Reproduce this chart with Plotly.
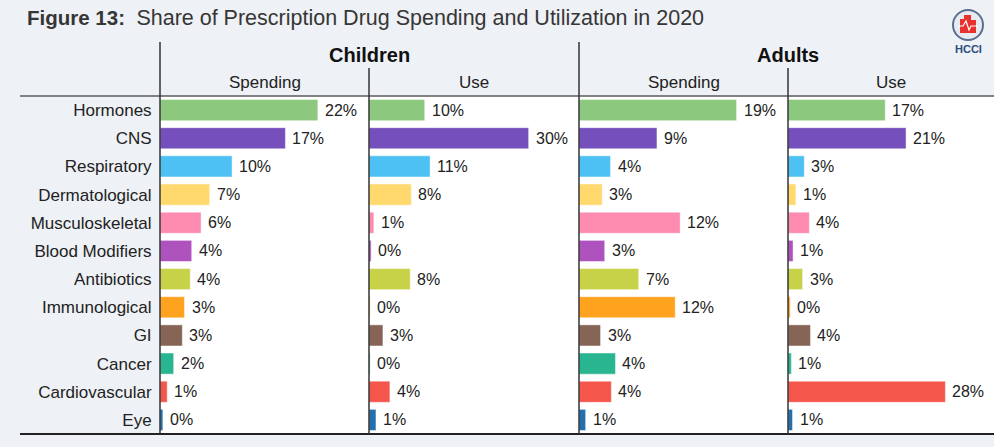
import plotly.graph_objects as go

# Therapeutic classes, top to bottom
categories = [
    "Hormones", "CNS", "Respiratory", "Dermatological", "Musculoskeletal",
    "Blood Modifiers", "Antibiotics", "Immunological", "GI", "Cancer",
    "Cardiovascular", "Eye",
]
class_colors = [
    "#8cc97e", "#754fbc", "#4dc0f4", "#ffd96d", "#fd8bb0", "#ae52be",
    "#c8d249", "#ffa31f", "#866556", "#2ab591", "#f5564b", "#2370ae",
]

# Share of spending / utilization (%), 2020
children_spending = [21.9, 17.4, 10.0, 6.9, 5.7, 4.4, 4.2, 3.4, 3.1, 1.9, 1.0, 0.4]
children_use = [10.4, 29.8, 11.4, 7.9, 0.9, 0.4, 7.7, 0.2, 2.6, 0.2, 3.9, 1.3]
adults_spending = [19.0, 9.4, 3.8, 2.8, 12.2, 3.1, 7.2, 11.6, 2.6, 4.4, 3.9, 0.8]
adults_use = [17.3, 21.0, 2.9, 1.4, 3.8, 0.9, 2.6, 0.4, 4.0, 0.6, 28.0, 0.8]

group_labels = ["Children", "Adults"]
measure_labels = ["Spending", "Use", "Spending", "Use"]

W, H = 994, 447
FONT = "Liberation Sans, Arial, Helvetica, sans-serif"
TEXT = "#222222"
BG = "#eef1f5"


def px(x):
    return x / W


def py(y):
    return 1 - y / H


panels = [children_spending, children_use, adults_spending, adults_use]
# panel edges in pixels and each panel's x-range (max value leaves room for label)
edges = [160, 369, 579, 788, 994]
x_ranges = [29.0, 39.2, 25.2, 36.65]

fig = go.Figure()
annotations = []

for i, values in enumerate(panels):
    ax = "" if i == 0 else str(i + 1)
    fig.add_trace(go.Bar(
        x=values, y=categories, orientation="h",
        marker=dict(color=class_colors, line=dict(color="rgba(255,255,255,0.45)", width=1)),
        xaxis="x" + ax, yaxis="y" + ax,
        hovertemplate="%{y}: %{x:.0f}%<extra></extra>",
        showlegend=False,
    ))
    for cat, v in zip(categories, values):
        annotations.append(dict(
            x=v, y=cat, xref="x" + ax, yref="y" + ax,
            text=f"{v:.0f}%", showarrow=False, xanchor="left", yanchor="middle",
            xshift=5, font=dict(family=FONT, size=16, color=TEXT),
        ))

layout = dict(
    width=W, height=H,
    margin=dict(l=0, r=0, t=0, b=0),
    paper_bgcolor=BG, plot_bgcolor="white",
    bargap=0.25,
    font=dict(family=FONT, color=TEXT),
)

y_dom = [py(434), py(96)]
for i in range(4):
    ax = "" if i == 0 else str(i + 1)
    layout["xaxis" + ax] = dict(
        domain=[px(edges[i]), px(edges[i + 1])], range=[0, x_ranges[i]],
        showgrid=False, zeroline=False, showticklabels=False, showline=False,
        anchor="y" + ax, fixedrange=True,
    )
    yax = dict(
        domain=y_dom, type="category", categoryorder="array",
        categoryarray=categories, autorange="reversed",
        showgrid=False, zeroline=False, showline=False,
        anchor="x" + ax, fixedrange=True,
    )
    if i == 0:
        yax.update(showticklabels=True, ticks="outside", ticklen=4,
                   tickcolor="rgba(0,0,0,0)",
                   tickfont=dict(family=FONT, size=17, color=TEXT))
    else:
        yax.update(showticklabels=False, matches="y")
    layout["yaxis" + ax] = yax

fig.update_layout(**layout)

# Title
annotations.append(dict(
    x=px(25), y=py(18.5), xref="paper", yref="paper", xanchor="left", yanchor="middle",
    text=("<b>Figure 13:</b>&nbsp; <span style='font-size:21.5px'>"
          "Share of Prescription Drug Spending and Utilization in 2020</span>"),
    showarrow=False, font=dict(family=FONT, size=20.5, color="#363636"),
))

# Group headers (Children / Adults)
for g, label in enumerate(group_labels):
    cx = edges[2 * g + 1]
    annotations.append(dict(
        x=px(cx), y=py(55), xref="paper", yref="paper", xanchor="center", yanchor="middle",
        text=f"<b>{label}</b>", showarrow=False,
        font=dict(family=FONT, size=20, color="#111111"),
    ))

# Measure headers (Spending / Use)
for i, label in enumerate(measure_labels):
    cx = (edges[i] + edges[i + 1]) / 2
    annotations.append(dict(
        x=px(cx), y=py(82), xref="paper", yref="paper", xanchor="center", yanchor="middle",
        text=label, showarrow=False, font=dict(family=FONT, size=17, color=TEXT),
    ))

# Logo caption
annotations.append(dict(
    x=px(968), y=py(49), xref="paper", yref="paper", xanchor="center", yanchor="middle",
    text="<b>HCCI</b>", showarrow=False, font=dict(family=FONT, size=11, color="#2b4d7e"),
))

shapes = []


def line(x0, y0, x1, y1, color, width):
    shapes.append(dict(type="line", xref="paper", yref="paper",
                       x0=px(x0), y0=py(y0), x1=px(x1), y1=py(y1),
                       line=dict(color=color, width=width)))


# table rules
line(20, 96, 994, 96, "#5a5a5a", 1.5)
line(20, 434, 994, 434, "#222222", 2)
line(160, 42, 160, 434, "#333333", 1.5)
line(579, 42, 579, 434, "#333333", 1.5)
line(369, 68, 369, 434, "#333333", 1.5)
line(788, 68, 788, 434, "#333333", 1.5)

# logo badge
shapes.append(dict(type="circle", xref="paper", yref="paper",
                   x0=px(953), x1=px(983), y0=py(40), y1=py(10),
                   fillcolor="#e6ebf1", line=dict(color="#5b6f8e", width=2)))
for (x0, y0, x1, y1) in [(960, 19, 965, 33), (964, 15, 971, 33), (970, 20, 976, 33)]:
    shapes.append(dict(type="rect", xref="paper", yref="paper",
                       x0=px(x0), x1=px(x1), y0=py(y1), y1=py(y0),
                       fillcolor="#e8312f", line=dict(width=0)))
shapes.append(dict(
    type="path", xref="paper", yref="paper",
    path="M {} {} L {} {} L {} {} L {} {} L {} {} L {} {}".format(
        px(958), py(26), px(963), py(26), px(966), py(21), px(969), py(30),
        px(971), py(26), px(978), py(26)),
    line=dict(color="white", width=1.2),
))

fig.update_layout(annotations=annotations, shapes=shapes)

fig.write_html("out.html", config={"displayModeBar": False})
